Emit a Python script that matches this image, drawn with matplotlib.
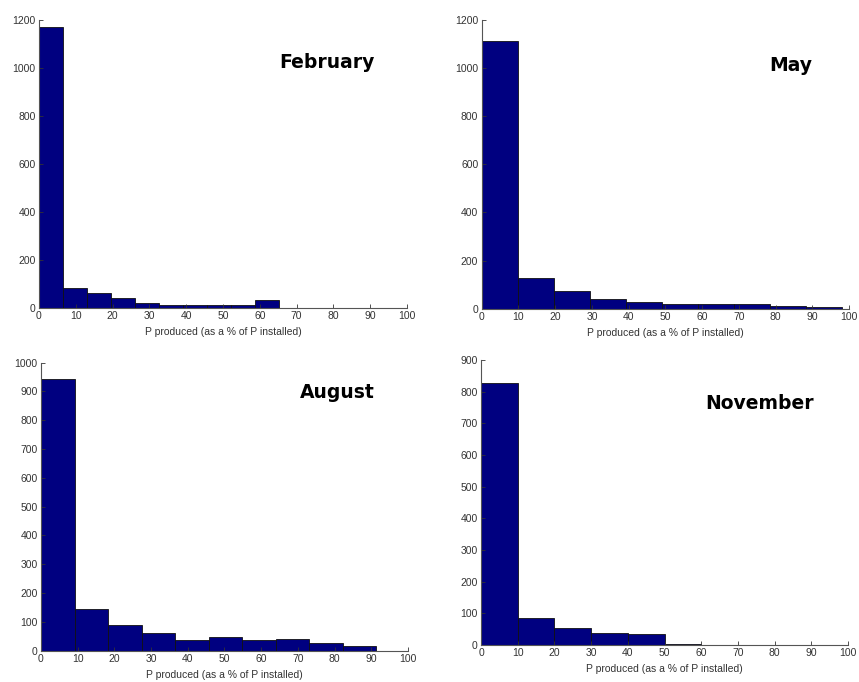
import numpy as np
import matplotlib.pyplot as plt

plt.rcParams['font.family'] = ['Liberation Sans', 'DejaVu Sans']

# histogram counts per month (10 equal bins starting at 0)
feb_counts = [1172, 85, 64, 40, 20, 13, 13, 13, 13, 32]
may_counts = [1111, 127, 74, 40, 27, 20, 20, 18, 13, 8]
aug_counts = [945, 146, 88, 61, 37, 48, 37, 39, 27, 15]
nov_counts = [826, 86, 53, 39, 36, 3]

# upper end of the binned range, % of installed power
feb_top = 65.3
may_top = 98.0
aug_top = 91.4
nov_top = 60.0

months = ['February', 'May', 'August', 'November']
ymax = [1200, 1200, 1000, 900]
ystep = [200, 200, 100, 100]

fig = plt.figure(figsize=(8.59, 6.82), dpi=100)

boxes = [[0.0454, 0.5484, 0.4284, 0.4223],
         [0.5608, 0.5474, 0.4276, 0.4233],
         [0.0477, 0.0459, 0.4273, 0.4223],
         [0.5600, 0.0543, 0.4272, 0.4178]]

# month label positions in axes coords
lab = [(0.783, 0.851), (0.84, 0.844), (0.807, 0.895), (0.76, 0.849)]

data = [(feb_counts, feb_top), (may_counts, may_top),
        (aug_counts, aug_top), (nov_counts, nov_top)]

for k in range(4):
	ax = fig.add_axes(boxes[k])
	counts, top = data[k]
	n = len(counts)
	edges = np.linspace(0, top, n+1)
	w = edges[1]-edges[0]
	ax.bar(edges[:-1], counts, width=w, align='edge',
	       color='#000080', edgecolor='#111111', linewidth=0.6)

	ax.set_xlim(0, 100)
	ax.set_ylim(0, ymax[k])
	ax.set_xticks(np.arange(0, 101, 10))
	ax.set_yticks(np.arange(0, ymax[k]+1, ystep[k]))
	ax.tick_params(direction='in', length=3, width=0.6, labelsize=7.5,
	               colors='#333333', pad=2.5)
	for s in ['top', 'right']:
		ax.spines[s].set_visible(False)
	for s in ['left', 'bottom']:
		ax.spines[s].set_color('#555555')
		ax.spines[s].set_linewidth(0.8)
	ax.set_xlabel('P produced (as a % of P installed)', fontsize=7.5,
	              color='#333333', labelpad=4)
	ax.text(lab[k][0], lab[k][1], months[k], transform=ax.transAxes,
	        ha='center', va='center', fontsize=13.5, fontweight='bold',
	        family='DejaVu Sans')

plt.savefig('out.png', dpi=100)
